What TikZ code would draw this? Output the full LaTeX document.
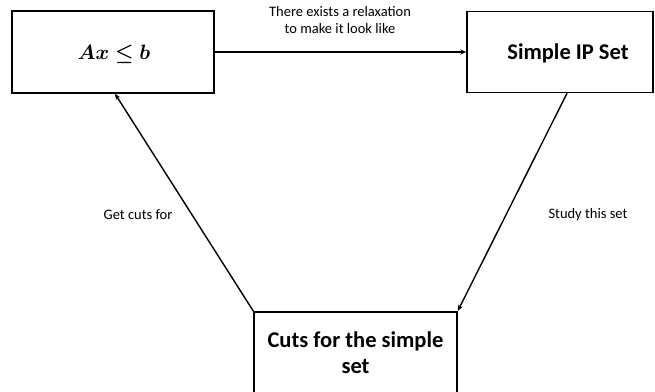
\documentclass[tikz,border=0pt]{standalone}
\usepackage{amsmath,bm}
\usepackage{fontspec}
\setmainfont{Carlito}
\usetikzlibrary{arrows.meta}
\begin{document}
\begin{tikzpicture}[x=1pt,y=-1pt,
  box/.style={draw=black,line width=1.5pt,rectangle,inner sep=0pt},
  boxtext/.style={font=\fontsize{22.5}{26}\selectfont\bfseries,align=center,inner sep=0pt},
  conn/.style={line width=1.4pt,-{Stealth[length=6pt,width=5pt]}},
  lbl/.style={font=\fontsize{14.5}{17}\selectfont,align=center,inner sep=0pt}]
\useasboundingbox (0,0) rectangle (655,391);
\node[box,minimum width=202pt,minimum height=82pt] (A) at (113,52) {};
\node[inner sep=0pt] (At) at (114,54) {\fontsize{20}{24}\selectfont$\bm{Ax \leq b}$};
\node[box,minimum width=186pt,minimum height=81pt] (B) at (560,52) {};
\node[boxtext,anchor=base] (Bt) at (568,59) {Simple IP Set};
\node[box,minimum width=203pt,minimum height=100pt,anchor=north] (C) at (355.5,311) {};
\node[boxtext,anchor=base] (Ct) at (355.5,373) {Cuts for the simple\\set};
\draw[conn] (A.east) -- (B.west);
\draw[conn] ([xshift=7pt]B.south) -- (C.north east);
\draw[conn] (C.north west) -- ([xshift=2pt]A.south);
\node[lbl] (L1) at (340,20) {There exists a relaxation\\to make it look like};
\node[lbl] (L2) at (138,215) {Get cuts for};
\node[lbl] (L3) at (588,215) {Study this set};
\end{tikzpicture}
\end{document}
